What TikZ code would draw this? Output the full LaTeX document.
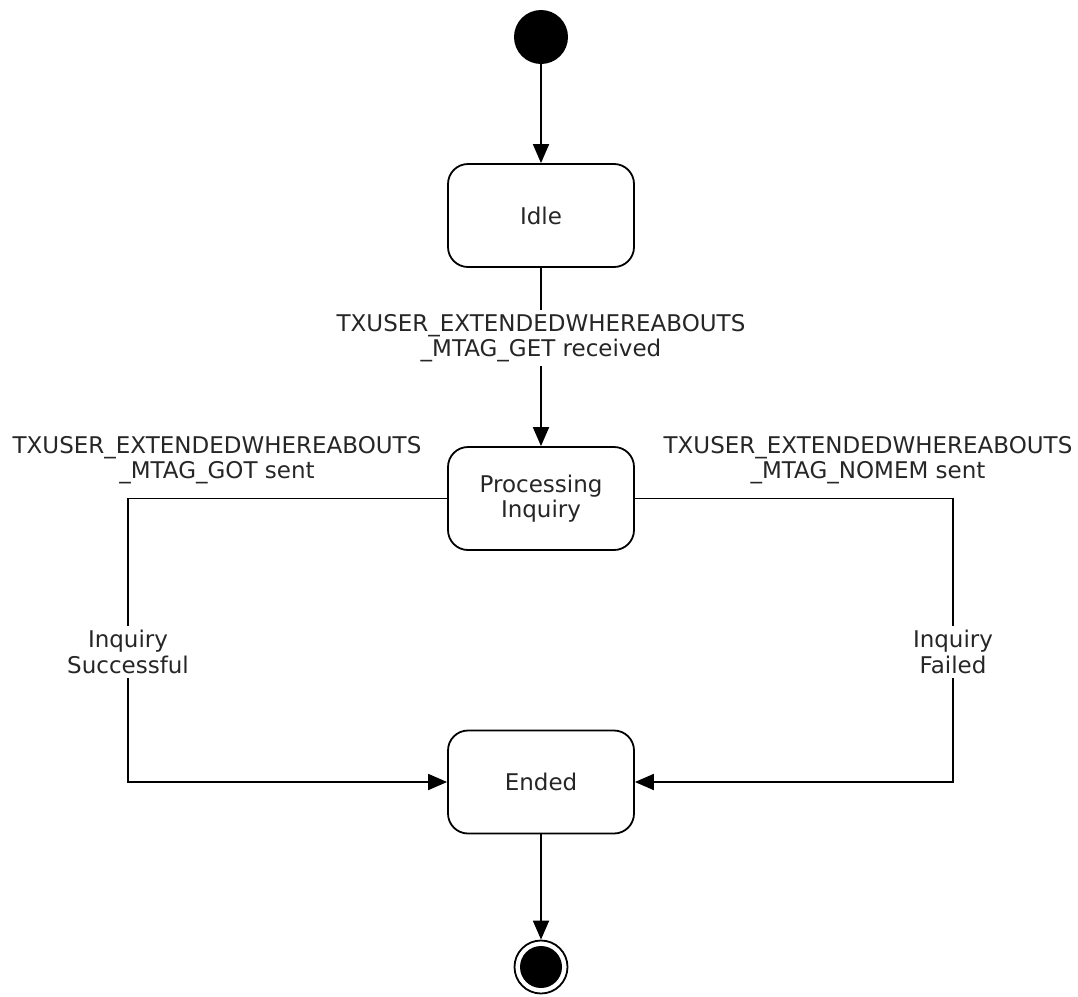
\documentclass[tikz,border=0pt]{standalone}
\usepackage{fontspec}
\setmainfont{DejaVu Sans}
\usetikzlibrary{arrows.meta}
\begin{document}
\begin{tikzpicture}[x=1pt,y=-1pt,
  every node/.style={font=\fontsize{23}{25.5}\selectfont, text=black!85},
  statebox/.style={draw, line width=1.8pt, rounded corners=20pt, minimum width=186pt, minimum height=103pt, align=center, inner sep=0pt},
  arr/.style={line width=1.8pt, -{Triangle[length=19pt,width=16pt]}},
  lbl/.style={fill=white, align=center, inner sep=4pt},
  freelbl/.style={align=center, inner sep=0pt}
]
\useasboundingbox (0,0) rectangle (1078,996);
\node[circle, fill=black, minimum size=54pt, inner sep=0pt] (start) at (541,37) {};
\node[statebox] (idle) at (541,215.5) {Idle};
\node[statebox] (proc) at (541,498.5) {Processing\\Inquiry};
\node[statebox] (ended) at (541,782) {Ended};
\node[circle, draw, line width=1.8pt, minimum size=53pt, inner sep=0pt] (fin) at (541,967) {};
\node[circle, fill=black, minimum size=42pt, inner sep=0pt] (finin) at (541,967) {};

\draw[arr] (start) -- (idle);
\draw[arr] (idle) -- (proc);
\node[lbl] (getlbl) at (541,338) {TXUSER\_EXTENDEDWHEREABOUTS\\\_MTAG\_GET received};

\coordinate (l1) at (128,498.5);
\coordinate (l2) at (128,782);
\coordinate (r1) at (953,498.5);
\coordinate (r2) at (953,782);
\draw[arr] (proc.west) -- (l1) -- (l2) -- (ended.west);
\draw[arr] (proc.east) -- (r1) -- (r2) -- (ended.east);
\node[lbl] (succ) at (128,652) {Inquiry\\Successful};
\node[lbl] (fail) at (953,652) {Inquiry\\Failed};
\node[freelbl] (gotlbl) at (217,460) {TXUSER\_EXTENDEDWHEREABOUTS\\\_MTAG\_GOT sent};
\node[freelbl] (nomemlbl) at (868,460) {TXUSER\_EXTENDEDWHEREABOUTS\\\_MTAG\_NOMEM sent};

\draw[arr] (ended) -- (fin);
\end{tikzpicture}
\end{document}
